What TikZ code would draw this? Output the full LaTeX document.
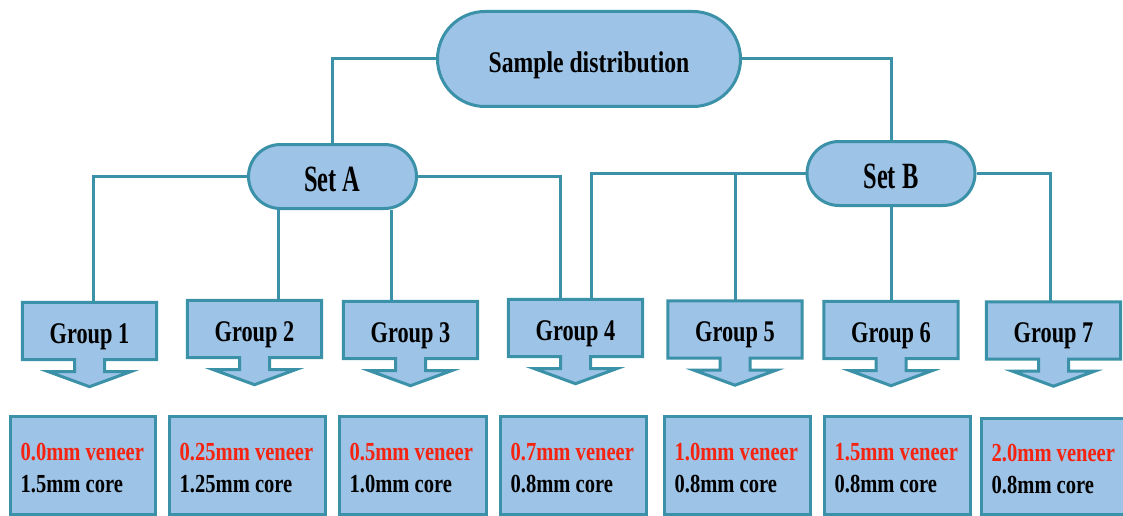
\documentclass[tikz,border=0pt]{standalone}
\usepackage{fontspec}
\newfontfamily\labT[FakeStretch=0.79]{Liberation Serif}
\newfontfamily\labS[FakeStretch=0.66]{Liberation Serif}
\newfontfamily\labG[FakeStretch=0.744]{Liberation Serif}
\newfontfamily\labR[FakeStretch=0.79]{Liberation Serif}
\usetikzlibrary{shapes.misc,backgrounds,calc}
\definecolor{fillblue}{RGB}{157,195,230}
\definecolor{edge}{RGB}{58,145,168}
\definecolor{vred}{RGB}{245,35,15}
\newcommand\grpbox[1]{%
  \path[grpshape] (#1.north west) -- (#1.north east) -- (#1.south east)
   -- ([xshift=15pt]#1.south) -- ([xshift=15pt,yshift=-12pt]#1.south)
   -- ([xshift=41pt,yshift=-12pt]#1.south) -- ([yshift=-27pt]#1.south)
   -- ([xshift=-41pt,yshift=-12pt]#1.south) -- ([xshift=-15pt,yshift=-12pt]#1.south)
   -- ([xshift=-15pt]#1.south) -- (#1.south west) -- cycle;}
\begin{document}
\begin{tikzpicture}[x=1pt,y=-1pt,
  stad/.style={rounded rectangle, draw=edge, line width=3pt, fill=fillblue, inner sep=0pt, text depth=0pt},
  grp/.style={minimum width=134pt, minimum height=57pt, inner sep=0pt, text height=24pt, text depth=0pt, font=\labG\bfseries\fontsize{30}{31}\selectfont},
  grpshape/.style={draw=edge, line width=3pt, fill=fillblue, line join=miter},
  res/.style={draw=edge, line width=3pt, fill=fillblue, inner sep=0pt},
  restext/.style={anchor=base west, inner sep=0pt, align=left, font=\labR\bfseries\fontsize{26}{32}\selectfont},
  conn/.style={draw=edge, line width=3pt}
]
\useasboundingbox (0,0) rectangle (1123,516);
% top
\node[stad, minimum width=303pt, minimum height=95pt, text height=28pt, font=\labT\bfseries\fontsize{30}{32}\selectfont] (sample) at (589,59) {Sample distribution};
\node[stad, minimum width=168pt, minimum height=64pt, text height=30pt, font=\labS\bfseries\fontsize{37}{38}\selectfont] (setA) at (332.5,176.5) {Set A};
\node[stad, minimum width=168pt, minimum height=64pt, text height=30pt, font=\labS\bfseries\fontsize{37}{38}\selectfont] (setB) at (891,173.5) {Set B};
% groups
\node[grp] (g1) at (89.5,331) {Group 1};
\node[grp] (g2) at (254.5,329) {Group 2};
\node[grp] (g3) at (410.5,330) {Group 3};
\node[grp] (g4) at (575.5,328) {Group 4};
\node[grp] (g5) at (735,329.5) {Group 5};
\node[grp] (g6) at (891,330) {Group 6};
\node[grp] (g7) at (1053.5,330.5) {Group 7};
% results
\node[res, minimum width=145pt, minimum height=98pt] (r1) at (83,465.5) {};
\node[res, minimum width=156pt, minimum height=98pt] (r2) at (247.5,465.5) {};
\node[res, minimum width=147pt, minimum height=98pt] (r3) at (413,465.5) {};
\node[res, minimum width=146pt, minimum height=98pt] (r4) at (573.5,465.5) {};
\node[res, minimum width=146pt, minimum height=98pt] (r5) at (737.5,465.5) {};
\node[res, minimum width=146pt, minimum height=98pt] (r6) at (897.5,465.5) {};
\node[res, minimum width=144.5pt, minimum height=96pt] (r7) at (1053.75,466.5) {};
\node[restext] (t1) at ([xshift=11.5pt,yshift=-26.5pt]r1.west) {\textcolor{vred}{0.0mm veneer}\\1.5mm core};
\node[restext] (t2) at ([xshift=11.5pt,yshift=-26.5pt]r2.west) {\textcolor{vred}{0.25mm veneer}\\1.25mm core};
\node[restext] (t3) at ([xshift=11.5pt,yshift=-26.5pt]r3.west) {\textcolor{vred}{0.5mm veneer}\\1.0mm core};
\node[restext] (t4) at ([xshift=11.5pt,yshift=-26.5pt]r4.west) {\textcolor{vred}{0.7mm veneer}\\0.8mm core};
\node[restext] (t5) at ([xshift=11.5pt,yshift=-26.5pt]r5.west) {\textcolor{vred}{1.0mm veneer}\\0.8mm core};
\node[restext] (t6) at ([xshift=11.5pt,yshift=-26.5pt]r6.west) {\textcolor{vred}{1.5mm veneer}\\0.8mm core};
\node[restext] (t7) at ([xshift=11.5pt,yshift=-26.5pt]r7.west) {\textcolor{vred}{2.0mm veneer}\\0.8mm core};
% connector x positions
\coordinate (x1) at (93,0);
\coordinate (x2) at (278,0);
\coordinate (x3) at (391,0);
\coordinate (x4a) at (560,0);
\coordinate (x4b) at (591,0);
\coordinate (x5) at (735,0);
\coordinate (x7) at (1050,0);
\begin{scope}[on background layer]
\draw[conn] (sample.west) -| (setA.north);
\draw[conn] (sample.east) -| (setB.north);
\draw[conn] (setA.west) -| (g1.north -| x1);
\draw[conn] (setA.south -| x2) -- (g2.north -| x2);
\draw[conn] (setA.south -| x3) -- (g3.north -| x3);
\draw[conn] (setA.east) -| (g4.north -| x4a);
\draw[conn] (setB.west) -| (g4.north -| x4b);
\draw[conn] (setB.west -| x5) -- (g5.north -| x5);
\draw[conn] (setB.south) -- (g6.north);
\draw[conn] (setB.east) -| (g7.north -| x7);
\grpbox{g1}\grpbox{g2}\grpbox{g3}\grpbox{g4}\grpbox{g5}\grpbox{g6}\grpbox{g7}
\end{scope}
\end{tikzpicture}
\end{document}
